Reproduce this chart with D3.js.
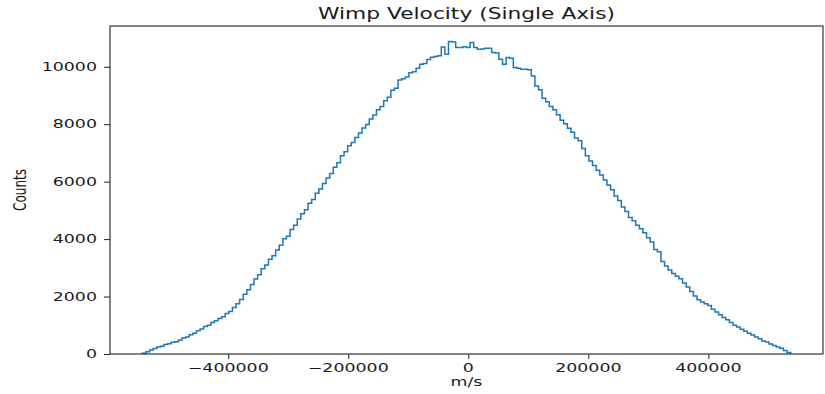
<!DOCTYPE html>
<html>
<head>
<meta charset="utf-8">
<script src="https://cdn.jsdelivr.net/npm/d3@7"></script>
<style>
  body { margin: 0; background: #fff; }
  text { font-family: "DejaVu Sans", sans-serif; fill: #1a1a1a; }
</style>
</head>
<body>
<div id="chart"></div>
<script>
// histogram of one velocity component, 180 bins of 6000 m/s
var binStart = -543000,
  binWidth = 6000;

var counts = [
  25, 75, 140, 190, 245, 270, 330, 355, 410, 430,
  490, 560, 590, 670, 720, 810, 870, 960, 1000, 1100,
  1160, 1240, 1300, 1410, 1480, 1620, 1750, 1900, 2080, 2240,
  2420, 2610, 2760, 2970, 3100, 3300, 3420, 3620, 3790, 4010,
  4100, 4330, 4480, 4700, 4880, 5020, 5250, 5380, 5600, 5740,
  5940, 6130, 6280, 6500, 6660, 6900, 7040, 7250, 7360, 7540,
  7690, 7870, 7990, 8180, 8320, 8500, 8620, 8820, 8940, 9180,
  9250, 9540, 9580, 9640, 9790, 9830, 9950, 10090, 10110, 10250,
  10330, 10360, 10380, 10690, 10435, 10875, 10860, 10667, 10667, 10700,
  10667, 10841, 10667, 10609, 10620, 10640, 10640, 10492, 10480, 10261,
  10087, 10319, 10300, 9971, 9950, 9913, 9913, 9900, 9681, 9332,
  9200, 8900, 8780, 8620, 8500, 8330, 8140, 8020, 7860, 7720,
  7520, 7420, 7150, 6900, 6720, 6560, 6400, 6230, 6060, 5880,
  5720, 5500, 5340, 5120, 4960, 4750, 4640, 4480, 4360, 4220,
  4050, 3900, 3640, 3560, 3220, 3060, 2920, 2800, 2710, 2620,
  2470, 2330, 2180, 2020, 1890, 1810, 1750, 1690, 1560, 1460,
  1370, 1270, 1190, 1100, 1000, 940, 860, 790, 720, 660,
  590, 530, 450, 420, 350, 300, 240, 200, 120, 50
];

var xTicks = [-400000, -200000, 0, 200000, 400000];
var yTicks = [0, 2000, 4000, 6000, 8000, 10000];

var width = 825,
  height = 394,
  margin = { top: 26, right: 2, bottom: 40, left: 110 },
  stretch = 1.45; // the original image is stretched sideways

var svg = d3
  .select("#chart")
  .append("svg")
  .attr("width", width)
  .attr("height", height);

var binEnd = binStart + binWidth * counts.length,
  pad = (binEnd - binStart) * 0.05;

var x = d3
  .scaleLinear()
  .domain([binStart - pad, binEnd + pad])
  .range([margin.left, width - margin.right]);

var y = d3
  .scaleLinear()
  .domain([0, d3.max(counts) * 1.05])
  .range([height - margin.bottom, margin.top]);

// outline like matplotlib histtype='step'
var pts = [[binStart, 0]];
counts.forEach(function(c, i) {
  pts.push([binStart + i * binWidth, c]);
  pts.push([binStart + (i + 1) * binWidth, c]);
});
pts.push([binEnd, 0]);

var line = d3
  .line()
  .x(function(d) { return x(d[0]); })
  .y(function(d) { return y(d[1]); });

svg
  .append("path")
  .attr("d", line(pts))
  .attr("fill", "none")
  .attr("stroke", "#1f77b4")
  .attr("stroke-width", 1.5)
  .attr("stroke-linejoin", "miter");

// axes
var xAxis = svg
  .append("g")
  .attr("transform", "translate(0," + y(0) + ")")
  .call(d3.axisBottom(x).tickValues(xTicks).tickSize(5).tickFormat(""));

var yAxis = svg
  .append("g")
  .attr("transform", "translate(" + x.range()[0] + ",0)")
  .call(d3.axisLeft(y).tickValues(yTicks).tickSize(6).tickFormat(""));

[xAxis, yAxis].forEach(function(g) {
  g.selectAll("line").attr("stroke", "#222");
  g.select(".domain").remove();
});

// frame
svg
  .append("rect")
  .attr("x", x.range()[0])
  .attr("y", y.range()[1])
  .attr("width", x.range()[1] - x.range()[0])
  .attr("height", y.range()[0] - y.range()[1])
  .attr("fill", "none")
  .attr("stroke", "#222")
  .attr("stroke-width", 1.1);

function label(px, py, txt, opts) {
  opts = opts || {};
  var t = "translate(" + px + "," + py + ") scale(" + stretch + ",1)";
  if (opts.rotate) t += " rotate(" + opts.rotate + ")";
  return svg
    .append("text")
    .attr("transform", t)
    .attr("text-anchor", opts.anchor || "middle")
    .attr("dominant-baseline", opts.baseline || "central")
    .style("font-size", (opts.size || 12) + "px")
    .text(txt);
}

var fmt = function(v) {
  return v < 0 ? "\u2212" + Math.abs(v) : String(v);
};

xTicks.forEach(function(v) {
  label(x(v), y(0) + 14, fmt(v));
});

yTicks.forEach(function(v) {
  label(x.range()[0] - 13, y(v), fmt(v), { anchor: "end" });
});

label((x.range()[0] + x.range()[1]) / 2, 14, "Wimp Velocity (Single Axis)", { size: 15 });
label((x.range()[0] + x.range()[1]) / 2, 382, "m/s");
label(20, (y.range()[0] + y.range()[1]) / 2, "Counts", { rotate: -90 });
</script>
</body>
</html>
